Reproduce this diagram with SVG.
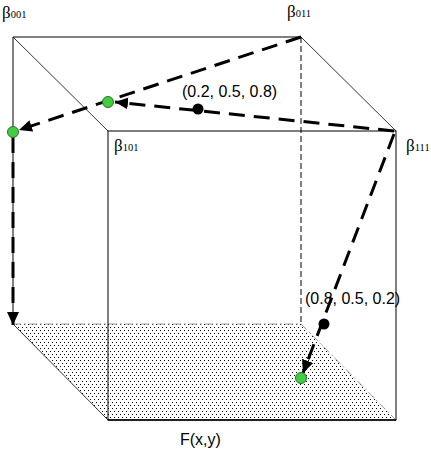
<svg xmlns="http://www.w3.org/2000/svg" width="431" height="454" viewBox="0 0 431 454">
<style>
.edge{stroke:#000;stroke-width:1;fill:none}
.thin{stroke:#000;stroke-width:0.8;fill:none}
.hid{stroke:#000;stroke-width:1;fill:none;stroke-dasharray:6 3}
.hidg{stroke:#999;stroke-width:1;fill:none;stroke-dasharray:8 3 2 3}
.path{stroke:#000;stroke-width:3;fill:none;stroke-dasharray:16 9;marker-end:url(#ah)}
.beta{font-family:"Liberation Serif",serif;font-size:17px;fill:#000}
.sub{font-size:10.5px}
.lbl{font-family:"Liberation Sans",Arial,sans-serif;font-size:16px;fill:#000}
.gp{fill:#44cc44;stroke:#227722;stroke-width:1}
.bp{fill:#000}
</style>
<defs>
<pattern id="dots" width="4" height="6" patternUnits="userSpaceOnUse">
<rect x="0" y="0" width="1" height="1" fill="#000"/>
<rect x="2" y="3" width="1" height="1" fill="#000"/>
</pattern>
<marker id="ah" markerUnits="userSpaceOnUse" markerWidth="14" markerHeight="12" refX="13" refY="6" orient="auto">
<path d="M0,0 L13,6 L0,12 Z" fill="#000"/>
</marker>
</defs>
<g id="floor">
<polygon points="13,324 301,324 396,420 108,420" fill="url(#dots)"/>
</g>
<g id="cube">
<line class="edge" x1="13" y1="37" x2="301" y2="37"/>
<line class="edge" x1="13" y1="37" x2="13" y2="324"/>
<line class="thin" x1="13" y1="37" x2="108" y2="131"/>
<line class="thin" x1="301" y1="37" x2="396" y2="131"/>
<line class="thin" x1="13" y1="324" x2="108" y2="420"/>
<line class="hid" x1="301" y1="37" x2="301" y2="324"/>
<line class="hidg" x1="13" y1="324" x2="301" y2="324"/>
<line class="hidg" x1="301" y1="324" x2="396" y2="420"/>
<rect class="edge" x="108" y="131" width="288" height="289" fill="none"/>
<line x1="108" y1="420" x2="396" y2="420" stroke="#000" stroke-width="1.5"/>
</g>
<g id="connectors">
<line class="path" x1="394" y1="131" x2="115" y2="102"/>
<line class="path" x1="301" y1="37" x2="19" y2="130"/>
<line class="path" x1="13" y1="137" x2="13" y2="325"/>
<line class="path" x1="394" y1="134" x2="303" y2="373"/>
</g>
<g id="points">
<circle class="gp" cx="108" cy="102" r="5.5"/>
<circle class="gp" cx="13" cy="132" r="5.5"/>
<circle class="gp" cx="301" cy="378" r="5.5"/>
<circle class="bp" cx="198" cy="109" r="5.5"/>
<circle class="bp" cx="324" cy="324" r="5.5"/>
</g>
<g id="labels">
<text class="beta" x="2" y="18">β<tspan class="sub">001</tspan></text>
<text class="beta" x="287" y="17">β<tspan class="sub">011</tspan></text>
<text class="beta" x="114" y="151">β<tspan class="sub">101</tspan></text>
<text class="beta" x="406" y="151">β<tspan class="sub">111</tspan></text>
<text class="lbl" x="182" y="97">(0.2, 0.5, 0.8)</text>
<text class="lbl" x="305" y="304">(0.8, 0.5, 0.2)</text>
<text class="lbl" x="180" y="445">F(x,y)</text>
</g>
</svg>
